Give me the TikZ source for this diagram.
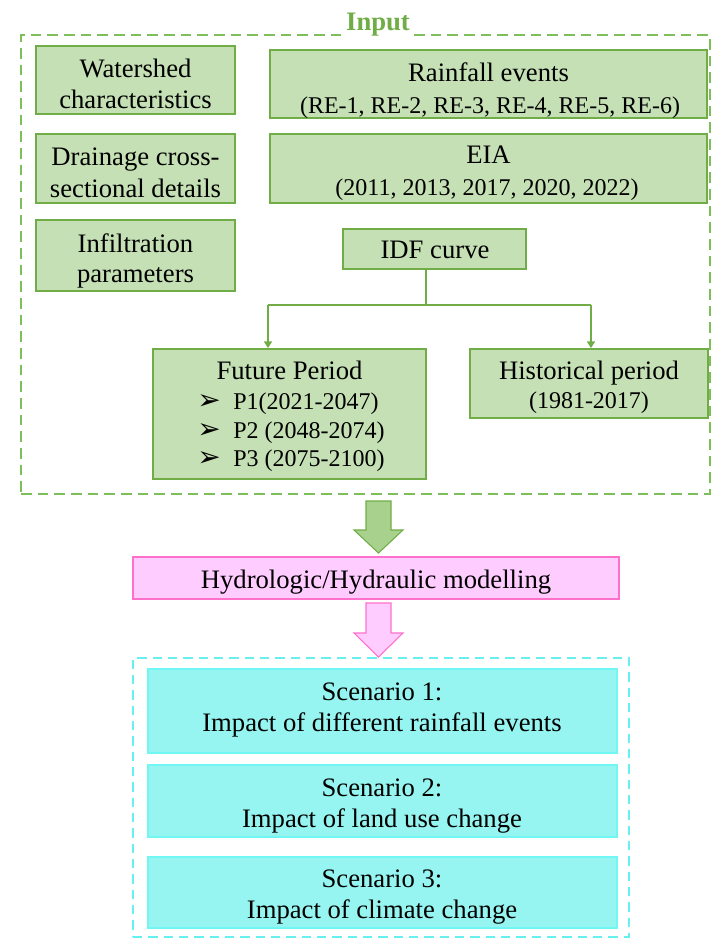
\documentclass[tikz,border=0pt]{standalone}
\usepackage{fontspec}
\setmainfont{Liberation Serif}
\newfontfamily\dvsfont{DejaVu Sans}
\usetikzlibrary{fit,arrows.meta}

\definecolor{gfill}{HTML}{C5E0B4}
\definecolor{gline}{HTML}{70AD47}
\definecolor{gdash}{HTML}{7FBF5A}
\definecolor{garrow}{HTML}{A9D18E}
\definecolor{pfill}{HTML}{FFCCFF}
\definecolor{pline}{HTML}{FF70CC}
\definecolor{cfill}{HTML}{96F5F0}
\definecolor{cline}{HTML}{70F7F4}
\definecolor{cdash}{HTML}{66F0F0}

\newcommand{\bulletmark}{{\dvsfont\fontsize{21}{21}\selectfont ➢}}

\begin{document}
\begin{tikzpicture}[x=0.75pt,y=-0.75pt,
  gbox/.style={draw=gline, fill=gfill, line width=1.4pt, inner sep=0pt},
  pbox/.style={draw=pline, fill=pfill, line width=1.2pt, inner sep=0pt},
  cbox/.style={draw=cline, fill=cfill, line width=1pt, inner sep=0pt},
  gframe/.style={draw=gdash, line width=1.5pt, dash pattern=on 8pt off 4.5pt, inner sep=0pt},
  cframe/.style={draw=cdash, line width=1.1pt, dash pattern=on 7pt off 4.5pt, inner sep=0pt},
  big/.style={inner sep=0pt, anchor=base, font=\fontsize{20}{24}\selectfont},
  small/.style={inner sep=0pt, anchor=base, font=\fontsize{18}{22}\selectfont},
  bul/.style={inner sep=0pt, anchor=base west},
  conn/.style={draw=gline, line width=1.1pt},
  arr/.style={conn, -{Triangle[length=5pt,width=6pt]}},
]
\useasboundingbox (0,0) rectangle (715,940);

% input frame and its title
\node[gframe, fit={(21,35)(710,494)}] (inbox) {};
\node[fill=white, text=gline, inner sep=1.5pt, anchor=base,
      font=\fontsize{20}{24}\selectfont\bfseries] (intitle) at (378,30) {Input};

% left column of inputs
\node[gbox, fit={(36,46)(235,114)}] (ws) {};
\node[big] (ws1) at (135.5,77) {Watershed};
\node[big] (ws2) at (135.5,108) {characteristics};

\node[gbox, fit={(36,134)(235,203)}] (dr) {};
\node[big] (dr1) at (135.5,165) {Drainage cross-};
\node[big] (dr2) at (135.5,197) {sectional details};

\node[gbox, fit={(36,220)(235,291)}] (inf) {};
\node[big] (inf1) at (135.5,252) {Infiltration};
\node[big] (inf2) at (135.5,282) {parameters};

% right column of inputs
\node[gbox, fit={(270,50)(707,118)}] (rain) {};
\node[big] (rain1) at (488.5,81) {Rainfall events};
\node[small] (rain2) at (490,113) {(RE-1, RE-2, RE-3, RE-4, RE-5, RE-6)};

\node[gbox, fit={(270,134)(707,203)}] (eia) {};
\node[big] (eia1) at (488.5,163) {EIA};
\node[small] (eia2) at (487,195) {(2011, 2013, 2017, 2020, 2022)};

\node[gbox, fit={(343,229)(526,269)}] (idf) {};
\node[big] (idft) at (435,258) {IDF curve};

% periods
\node[gbox, fit={(153,349)(426,479)}] (fut) {};
\node[big] (futt) at (289.5,379) {Future Period};
\node[bul] (b1) at (197,409) {\bulletmark};
\node[small, anchor=base west] (p1) at (233,409) {P1(2021-2047)};
\node[bul] (b2) at (197,438) {\bulletmark};
\node[small, anchor=base west] (p2) at (233,438) {P2 (2048-2074)};
\node[bul] (b3) at (197,466) {\bulletmark};
\node[small, anchor=base west] (p3) at (233,466) {P3 (2075-2100)};

\node[gbox, fit={(470,349)(708,418)}] (hist) {};
\node[big] (hist1) at (589,379) {Historical period};
\node[small] (hist2) at (589,408) {(1981-2017)};

% IDF curve branches to both periods
\coordinate (jn) at (426,305);
\coordinate (fl) at (268,305);
\coordinate (fr) at (591,305);
\draw[conn] (jn |- idf.south) -- (jn);
\draw[conn] (fl) -- (fr);
\draw[arr] (fl) -- (fl |- fut.north);
\draw[arr] (fr) -- (fr |- hist.north);

% modelling step
\node[pbox, fit={(133,557)(619,599)}] (hyd) {};
\node[big] (hydt) at (376,588) {Hydrologic/Hydraulic modelling};

% block arrows
\draw[draw=gline, fill=garrow, line width=0.8pt, line join=miter]
  (366,501) -- (391,501) -- (391,530) -- (403,530) -- (378.5,553)
  -- (354,530) -- (366,530) -- cycle;
\draw[draw=pline, fill=pfill, line width=0.8pt, line join=miter]
  (366,603) -- (391,603) -- (391,633) -- (403,633) -- (378.5,657)
  -- (354,633) -- (366,633) -- cycle;

% scenarios
\node[cframe, fit={(133,658)(629,937)}] (scen) {};
\node[cbox, fit={(148,669)(617,753)}] (s1) {};
\node[big] (s1a) at (382,700) {Scenario 1:};
\node[big] (s1b) at (382,731) {Impact of different rainfall events};
\node[cbox, fit={(148,765)(617,837)}] (s2) {};
\node[big] (s2a) at (382,796) {Scenario 2:};
\node[big] (s2b) at (382,827) {Impact of land use change};
\node[cbox, fit={(148,857)(617,928)}] (s3) {};
\node[big] (s3a) at (382,887) {Scenario 3:};
\node[big] (s3b) at (382,918) {Impact of climate change};
\end{tikzpicture}
\end{document}
